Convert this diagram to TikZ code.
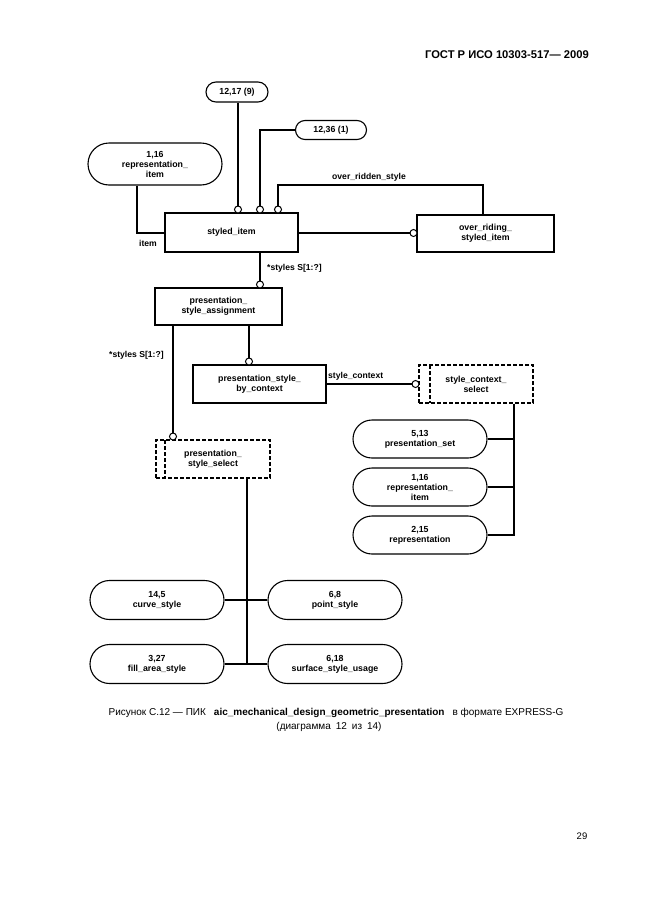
\documentclass[tikz,border=0pt]{standalone}
\usepackage{fontspec}
\setmainfont{Liberation Sans}
\usetikzlibrary{shapes.misc}
\begin{document}
\begin{tikzpicture}[x=1pt,y=-1pt,
  lbl/.style={font=\fontsize{8.8}{10}\selectfont\bfseries,align=center,inner sep=0pt},
  ent/.style={lbl,draw,line width=1.1pt,rectangle,minimum width=#1},
  cap/.style={lbl,draw,line width=1.1pt,rounded rectangle,minimum width=#1},
  sel/.style={lbl,draw,line width=1.4pt,dash pattern=on 4pt off 2pt,rectangle,minimum width=114pt,minimum height=38pt},
  circ/.style={circle,draw,line width=1pt,fill=white,inner sep=0pt,minimum size=7pt},
  con/.style={line width=1.1pt},
  thk/.style={line width=2.2pt},
  tag/.style={font=\fontsize{8.6}{9}\selectfont\bfseries,inner sep=0pt}]
\useasboundingbox (0,0) rectangle (646,913);
% header
\node[font=\fontsize{11.2}{13}\selectfont\bfseries,anchor=east,inner sep=0pt] (hdr) at (589,55) {ГОСТ Р ИСО 10303-517— 2009};
% nodes
\node[cap=62pt,minimum height=20pt] (n1217) at (237,92) {12,17 (9)};
\node[cap=71pt,minimum height=19pt] (n1236) at (331,130) {12,36 (1)};
\node[cap=134pt,minimum height=42pt] (ri1) at (155,164) {1,16\\representation\_\\item};
\node[ent=133pt,minimum height=39pt] (si) at (231.5,232.5) {styled\_item};
\node[ent=137pt,minimum height=37pt] (osi) at (485.5,233.5) {over\_riding\_\\styled\_item};
\node[ent=127pt,minimum height=37pt] (psa) at (218.5,306.5) {presentation\_\\style\_assignment};
\node[ent=133pt,minimum height=38pt] (ppbc) at (259.5,384) {presentation\_style\_\\by\_context};
\node[sel] (scs) at (476,384) {style\_context\_\\select};
\node[sel] (pss) at (213,459) {presentation\_\\style\_select};
\draw[line width=1.4pt,dash pattern=on 4pt off 2pt] (430,365) -- (430,403);
\draw[line width=1.4pt,dash pattern=on 4pt off 2pt] (165,440) -- (165,478);
\node[cap=134pt,minimum height=38pt] (ps) at (420,439) {5,13\\presentation\_set};
\node[cap=134pt,minimum height=38pt] (ri2) at (420,487) {1,16\\representation\_\\item};
\node[cap=134pt,minimum height=38pt] (rep) at (420,535) {2,15\\representation};
\node[cap=134pt,minimum height=39pt] (cs) at (157,600) {14,5\\curve\_style};
\node[cap=134pt,minimum height=39pt] (pts) at (335,600) {6,8\\point\_style};
\node[cap=134pt,minimum height=39pt] (fas) at (157,664) {3,27\\fill\_area\_style};
\node[cap=134pt,minimum height=39pt] (ssu) at (335,664) {6,18\\surface\_style\_usage};
% circles
\node[circ] (c1) at (238,209.5) {};
\node[circ] (c2) at (260,209.5) {};
\node[circ] (c3) at (278,209.5) {};
\node[circ] (c4) at (413.5,233) {};
\node[circ] (c5) at (260,284.5) {};
\node[circ] (c6) at (249,361.5) {};
\node[circ] (c7) at (173,436.5) {};
\node[circ] (c8) at (415.5,384) {};
% junction coordinates
\coordinate (orJ) at (483,185);
\coordinate (riJ) at (137,233);
\coordinate (scsJ) at (514,535);
\coordinate (bJ) at (247,664);
% connectors
\draw[con] (n1217.south -| c1) -- (c1.north);
\draw[thk] (n1236.west) -| (c2.north);
\draw[con] (c3.north) -- (c3.north |- orJ) -- (orJ) -- (orJ |- osi.north);
\draw[thk] (si.east |- c4) -- (c4.west);
\draw[con] (riJ |- ri1.south) -- (riJ) -- (riJ -| si.west);
\draw[con] (si.south -| c5) -- (c5.north);
\draw[thk] (psa.south -| c6) -- (c6.north);
\draw[con] (psa.south -| c7) -- (c7.north);
\draw[con] (ppbc.east) -- (c8.west);
\draw[con] (scs.south -| scsJ) -- (scsJ) -- (rep.east);
\draw[con] (ps.east) -- (ps.east -| scsJ);
\draw[con] (ri2.east) -- (ri2.east -| scsJ);
\draw[con] (pss.south -| bJ) -- (bJ);
\draw[con] (cs.east) -- (pts.west);
\draw[con] (fas.east) -- (ssu.west);
% labels
\node[tag] (t1) at (369,177) {over\_ridden\_style};
\node[tag] (t2) at (148,243) {item};
\node[tag,anchor=west] (t3) at (267,268) {*styles S[1:?]};
\node[tag,anchor=west] (t4) at (109,355) {*styles S[1:?]};
\node[tag,anchor=west] (t5) at (328,376) {style\_context};
% caption
\node[font=\fontsize{10}{12}\selectfont,align=center,inner sep=0pt] (cap1) at (336,713) {Рисунок С.12 — ПИК\hspace{0.8em}\textbf{aic\_mechanical\_design\_geometric\_presentation}\hspace{0.8em}в формате EXPRESS-G};
\node[font=\fontsize{10}{12}\selectfont,inner sep=0pt] (cap2) at (329,727) {(диаграмма\hspace{0.5em}12\hspace{0.5em}из\hspace{0.5em}14)};
\node[font=\fontsize{9.5}{11}\selectfont,inner sep=0pt] (pg) at (582,836) {29};
\end{tikzpicture}
\end{document}
